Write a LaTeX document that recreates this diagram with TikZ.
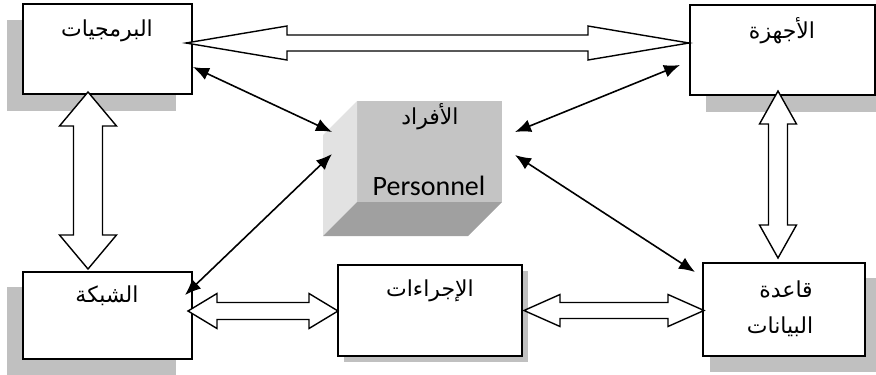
\documentclass[tikz,border=0pt]{standalone}
\usepackage{fontspec}
\usetikzlibrary{calc,arrows.meta,backgrounds}
\TeXXeTstate=1
\newfontfamily\arabicfont[Script=Arabic]{DejaVu Sans}
\newfontfamily\calibrifont{Carlito}
\definecolor{shadowgray}{HTML}{C0C0C0}
\definecolor{cubefront}{HTML}{C4C4C4}
\definecolor{cubeleft}{HTML}{E2E2E2}
\definecolor{cubebottom}{HTML}{A0A0A0}
\newcommand\harrow[5]{%
 \draw[hollow] let \p1=(#1), \p2=(#2) in
 (\x1,\y1) -- (\x1+#3pt,\y1+#4pt) -- (\x1+#3pt,\y1+#5pt) -- (\x2-#3pt,\y1+#5pt) -- (\x2-#3pt,\y1+#4pt) -- (\x2,\y1) -- (\x2-#3pt,\y1-#4pt) -- (\x2-#3pt,\y1-#5pt) -- (\x1+#3pt,\y1-#5pt) -- (\x1+#3pt,\y1-#4pt) -- cycle;}
\newcommand\varrow[5]{%
 \draw[hollow] let \p1=(#1), \p2=(#2) in
 (\x1,\y1) -- (\x1+#4pt,\y1-#3pt) -- (\x1+#5pt,\y1-#3pt) -- (\x1+#5pt,\y2+#3pt) -- (\x1+#4pt,\y2+#3pt) -- (\x1,\y2) -- (\x1-#4pt,\y2+#3pt) -- (\x1-#5pt,\y2+#3pt) -- (\x1-#5pt,\y1-#3pt) -- (\x1-#4pt,\y1-#3pt) -- cycle;}
\begin{document}
\begin{tikzpicture}[x=1pt,y=-1pt,
  box/.style={draw=black,line width=1.6pt,fill=white,inner sep=0pt,outer sep=0pt},
  artext/.style={font=\arabicfont\fontsize{22}{26}\selectfont,inner sep=0pt},
  hollow/.style={draw=black,line width=1.4pt,fill=white,line join=miter},
  link/.style={line width=1.6pt,{Latex[length=16pt,width=13pt]}-{Latex[length=16pt,width=13pt]}}]
\useasboundingbox (0,0) rectangle (876,375);
\clip (0,0) rectangle (876,375);
% boxes
\node[box,minimum width=169pt,minimum height=90pt] (b1) at (107.5,49) {};
\node[box,minimum width=185pt,minimum height=90pt] (b2) at (782.5,50) {};
\node[box,minimum width=169pt,minimum height=87pt] (b3) at (107.5,315.5) {};
\node[box,minimum width=184pt,minimum height=91pt] (b4) at (430,310.5) {};
\node[box,minimum width=162pt,minimum height=93pt] (b5) at (784,309.5) {};
% shadows
\begin{pgfonlayer}{background}
\fill[shadowgray] ($(b1.north west)+(-16,16)$) rectangle ($(b1.south east)+(-16,17)$);
\fill[shadowgray] ($(b2.north west)+(16,15)$) rectangle ($(b2.south east)+(16,17)$);
\fill[shadowgray] ($(b3.north west)+(-16,15)$) rectangle ($(b3.south east)+(-16,16)$);
\fill[shadowgray] ($(b4.north west)+(6,6)$) rectangle ($(b4.south east)+(6,6)$);
\fill[shadowgray] ($(b5.north west)+(7,15)$) rectangle ($(b5.south east)+(16,16)$);
\end{pgfonlayer}
% cube
\node[fill=cubefront,inner sep=0pt,outer sep=0pt,minimum width=145pt,minimum height=101pt] (cube) at (429.5,151.5) {};
\fill[cubeleft] (cube.north west) -- ++(-34,34) -- ($(cube.south west)+(-34,34)$) -- (cube.south west) -- cycle;
\fill[cubebottom] (cube.south west) -- (cube.south east) -- ++(-34,34) -- ($(cube.south west)+(-34,34)$) -- cycle;
% texts
\node[artext] (t1) at (107,31) {\beginR البرمجيات\endR};
\node[artext] (t2) at (782,31) {\beginR الأجهزة\endR};
\node[artext] (t3) at (107,296) {\beginR الشبكة\endR};
\node[artext] (t4) at (430,291) {\beginR الإجراءات\endR};
\node[artext] (t5a) at (786,289) {\beginR قاعدة\endR};
\node[artext] (t5b) at (780,327) {\beginR البيانات\endR};
\node[artext] (t6) at (430,117) {\beginR الأفراد\endR};
\node[font=\calibrifont\fontsize{28}{32}\selectfont,inner sep=0pt] (t7) at (429,186) {Personnel};
% hollow arrow ends
\coordinate (h1l) at ($(b1.east)+(-6,-6)$);
\coordinate (h1r) at ($(b2.west)+(-1,-7)$);
\coordinate (v1t) at ($(b1.south)+(-19.5,-2)$);
\coordinate (v1b) at ($(b3.north)+(-19.5,-3)$);
\coordinate (v2t) at ($(b2.south)+(-4.5,-4)$);
\coordinate (v2b) at ($(b5.north)+(-6,-5)$);
\coordinate (h2l) at ($(b3.east)+(-4,-4.5)$);
\coordinate (h2r) at (b4.west);
\coordinate (h3l) at ($(b4.east)+(2,0)$);
\coordinate (h3r) at ($(b5.west)+(1,1)$);
\harrow{h1l}{h1r}{101}{17}{8}
\varrow{v1t}{v1b}{34}{28.5}{14.5}
\varrow{v2t}{v2b}{33}{18.5}{9.5}
\harrow{h2l}{h2r}{29}{17.5}{8.5}
\harrow{h3l}{h3r}{36}{16}{8}
% black links
\draw[link] ($(b1.east)+(1,18)$) -- ($(cube.west)+(-25,-19.5)$);
\draw[link] ($(b2.west)+(-10,15)$) -- ($(cube.east)+(13,-19.5)$);
\draw[link] ($(b3.east)+(-7,-20.5)$) -- ($(cube.west)+(-25,2.5)$);
\draw[link] ($(b5.west)+(-8,-37.5)$) -- ($(cube.east)+(13,3.5)$);
\end{tikzpicture}
\end{document}
